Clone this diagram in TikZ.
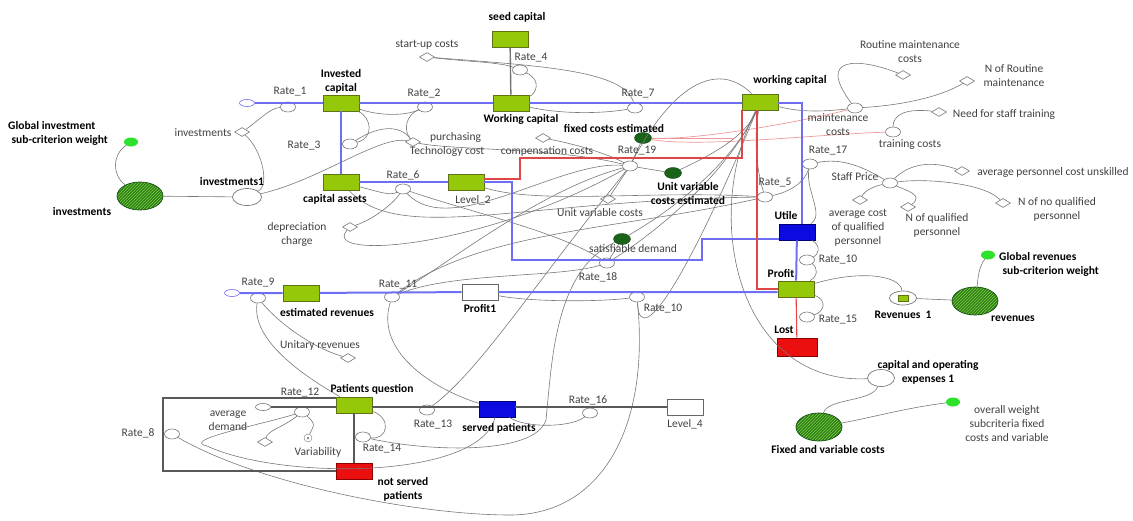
\documentclass[tikz,border=0pt]{standalone}
\usepackage{fontspec}
\setmainfont{Carlito}
\usetikzlibrary{positioning,shapes.geometric,patterns}

\definecolor{stockgreen}{RGB}{150,200,10}
\definecolor{stockedge}{RGB}{95,115,20}
\definecolor{flowblue}{RGB}{110,110,245}
\definecolor{boxblue}{RGB}{10,10,225}
\definecolor{boxred}{RGB}{235,15,15}
\definecolor{flowred}{RGB}{225,70,70}
\definecolor{darkgreen}{RGB}{25,100,25}
\definecolor{dotgreen}{RGB}{45,225,45}
\definecolor{hatchgreen}{RGB}{45,125,25}
\definecolor{hatchlight}{RGB}{130,210,70}
\definecolor{linkgray}{RGB}{120,120,120}
\definecolor{txtgray}{RGB}{65,65,65}

\tikzset{
  box/.style={draw=stockedge, line width=0.8pt, minimum width=36pt, minimum height=16pt, inner sep=0pt},
  stock/.style={box, fill=stockgreen},
  bstock/.style={box, draw=blue!45!black, fill=boxblue},
  rstock/.style={box, draw=red!55!black, fill=boxred},
  wstock/.style={box, draw=gray!80!black, fill=white},
  valve/.style={ellipse, draw=linkgray, fill=white, line width=0.6pt, minimum width=15pt, minimum height=10pt, inner sep=0pt},
  aux/.style={diamond, draw=linkgray, fill=white, line width=0.6pt, minimum width=15pt, minimum height=9pt, inner sep=0pt},
  sumnode/.style={ellipse, draw=linkgray, fill=white, line width=0.7pt, minimum width=29pt, minimum height=17pt, inner sep=0pt},
  cloudnode/.style={ellipse, draw=flowblue, line width=0.6pt, minimum width=15pt, minimum height=7pt, inner sep=0pt},
  estim/.style={ellipse, fill=darkgreen, draw=darkgreen!70!black, minimum width=17pt, minimum height=11pt, inner sep=0pt},
  wdot/.style={ellipse, fill=dotgreen, minimum width=14pt, minimum height=9pt, inner sep=0pt},
  crit/.style={ellipse, draw=darkgreen!80!black, line width=0.7pt, preaction={fill=hatchgreen}, pattern=north east lines, pattern color=hatchlight, minimum width=46pt, minimum height=28pt, inner sep=0pt},
  link/.style={draw=linkgray, line width=0.6pt},
  plink/.style={draw=flowred!55, line width=0.7pt},
  bflow/.style={draw=flowblue, line width=2pt},
  rflow/.style={draw=flowred, line width=1.1pt},
  kflow/.style={draw=black!65, line width=1.4pt},
  lbl/.style={text=txtgray, inner sep=1pt, align=center, font=\fontsize{11.5}{14}\selectfont},
  blbl/.style={lbl, text=black, font=\fontsize{11.5}{14}\selectfont\bfseries},
  slbl/.style={lbl, text=black, font=\fontsize{11.5}{14}\selectfont\bfseries, anchor=west, align=left}
}

\begin{document}
\begin{tikzpicture}[x=1pt,y=-1pt]
    \useasboundingbox (0,0) rectangle (1133,520);

    % stocks
    \node[stock] (seed) at (510,39) {};
    \node[stock] (invcap) at (341,103) {};
    \node[stock] (wcap) at (511,103) {};
    \node[stock] (wcap2) at (760,102) {};
    \node[stock] (assets) at (341,182) {};
    \node[stock] (lev2) at (466,182) {};
    \node[bstock] (utile) at (797,232) {};
    \node[stock] (profit) at (796,289) {};
    \node[rstock, minimum width=40pt, minimum height=18pt] (lost) at (797,347) {};
    \node[wstock] (profit1) at (480,292) {};
    \node[stock] (estrev) at (301,293) {};
    \node[stock] (patq) at (354,405) {};
    \node[bstock] (served) at (497,409) {};
    \node[rstock] (notserved) at (354,471) {};
    \node[wstock] (lev4) at (685,407) {};

    % clouds
    \node[cloudnode] (cl1) at (247,103) {};
    \node[cloudnode] (cl2) at (232,293) {};
    \node[cloudnode, draw=linkgray] (cl3) at (263,407) {};

    % valves
    \node[valve] (r1) at (288,107) {};
    \node[valve] (r2) at (425,107) {};
    \node[valve] (r3) at (350,144) {};
    \node[valve] (r4) at (520,70) {};
    \node[valve] (r5) at (765,197) {};
    \node[valve] (r6) at (403,189) {};
    \node[valve] (r7) at (635,108) {};
    \node[valve] (r8) at (172,434) {};
    \node[valve] (r9) at (258,298) {};
    \node[valve] (r10) at (807,260) {};
    \node[valve] (r10b) at (637,297) {};
    \node[valve] (r11) at (392,297) {};
    \node[valve] (r12) at (302,412) {};
    \node[valve] (r13) at (427,410) {};
    \node[valve] (r14) at (363,437) {};
    \node[valve] (r15) at (807,317) {};
    \node[valve] (r16) at (590,413) {};
    \node[valve] (r17) at (810,164) {};
    \node[valve] (r18) at (607,263) {};
    \node[valve] (r19) at (630,166) {};
    \node[valve] (mcost) at (855,108) {};
    \node[valve] (tcost) at (893,132) {};
    \node[valve] (sprice) at (890,183) {};

    % auxiliaries
    \node[aux] (invd) at (242,132) {};
    \node[aux] (startup) at (427,57) {};
    \node[aux] (purch) at (413,142) {};
    \node[aux] (comp) at (543,138) {};
    \node[aux] (uvc) at (608,199) {};
    \node[aux] (depr) at (350,227) {};
    \node[aux] (routine) at (903,75) {};
    \node[aux] (nroutine) at (967,81) {};
    \node[aux] (needtr) at (939,112) {};
    \node[aux] (apcu) at (962,171) {};
    \node[aux] (nnoq) at (1003,203) {};
    \node[aux] (nq) at (908,207) {};
    \node[aux] (acq) at (860,200) {};
    \node[aux] (unitrev) at (348,358) {};
    \node[aux] (avgdem) at (265,442) {};
    \node[circle, draw=linkgray, minimum size=8pt, inner sep=0pt] (var) at (308,438) {};
    \node[circle, fill=linkgray, minimum size=2.5pt, inner sep=0pt] (vardot) at (var) {};

    % estimates and weights
    \node[estim] (fixed) at (643,138) {};
    \node[estim] (uvce) at (673,173) {};
    \node[estim] (satd) at (622,239) {};
    \node[wdot] (gdot1) at (131,142) {};
    \node[wdot] (gdot2) at (988,255) {};
    \node[wdot] (gdot3) at (953,402) {};
    \node[crit] (invest) at (140,196) {};
    \node[crit] (revenues) at (975,301) {};
    \node[crit] (fvc) at (819,427) {};
    \node[sumnode] (sum1) at (247,197) {};
    \node[sumnode, minimum width=27pt] (capop) at (881,378) {};
    \node[sumnode, minimum width=27pt, minimum height=14pt] (rev1) at (903,298) {};
    \node[fill=stockgreen, draw=stockedge, minimum width=10pt, minimum height=6pt, inner sep=0pt] (rev1in) at (rev1) {};

    % information links
    \draw[link] (invd) .. controls (262,118) and (270,108) .. (r1);
    \draw[link] (invd) .. controls (262,150) and (270,185) .. (sum1);
    \draw[link] (sum1) .. controls (320,180) and (380,135) .. (purch);
    \draw[link] (gdot1) .. controls (112,155) and (112,175) .. (invest);
    \draw[link] (invest) -- (sum1);
    \draw[link] (invcap) .. controls (372,118) and (374,138) .. (r3);
    \draw[link] (r3) .. controls (380,125) and (400,125) .. (purch);
    \draw[link] (invcap) .. controls (380,116) and (405,116) .. (r2);
    \draw[link] (purch) .. controls (403,130) and (406,115) .. (r2);
    \draw[link] (startup) .. controls (470,62) and (500,62) .. (r4);
    \draw[link] (startup) .. controls (540,66) and (625,70) .. (r7);
    \draw[link] (r4) .. controls (542,80) and (536,94) .. (wcap);
    \draw[link] (wcap) .. controls (560,114) and (600,114) .. (r7);
    \draw[link] (wcap2) .. controls (720,62) and (675,80) .. (r19);
    \draw[link] (mcost) .. controls (820,112) and (800,112) .. (wcap2);
    \draw[link] (routine) .. controls (860,58) and (815,55) .. (mcost);
    \draw[link] (nroutine) .. controls (935,100) and (890,106) .. (mcost);
    \draw[link] (needtr) .. controls (905,108) and (893,115) .. (tcost);
    \draw[plink] (tcost) .. controls (820,134) and (700,148) .. (fixed);
    \draw[plink] (mcost) .. controls (800,122) and (700,140) .. (fixed);
    \draw[link] (sprice) .. controls (860,165) and (840,158) .. (r17);
    \draw[link] (apcu) .. controls (925,158) and (905,168) .. (sprice);
    \draw[link] (nnoq) .. controls (985,183) and (925,178) .. (sprice);
    \draw[link] (nq) .. controls (925,195) and (905,190) .. (sprice);
    \draw[link] (acq) .. controls (865,190) and (875,186) .. (sprice);
    \draw[link] (r5) .. controls (790,192) and (805,182) .. (r17);
    \draw[link] (r17) .. controls (805,190) and (825,215) .. (utile);
    \draw[link] (wcap2) .. controls (740,150) and (690,200) .. (satd);
    \draw[link] (wcap2) .. controls (745,140) and (700,160) .. (uvce);
    \draw[link] (wcap2) .. controls (752,150) and (760,180) .. (r5);
    \draw[link] (wcap2) .. controls (730,170) and (660,230) .. (r18);
    \draw[link] (fixed) -- (r19);
    \draw[link] (uvce) -- (r19);
    \draw[link] (uvc) -- (r19);
    \draw[link] (comp) .. controls (580,145) and (610,155) .. (r19);
    \draw[link] (purch) .. controls (450,150) and (560,148) .. (r19);
    \draw[link] (assets) .. controls (380,192) and (390,196) .. (r6);
    \draw[link] (depr) .. controls (372,220) and (392,205) .. (r6);
    \draw[link] (depr) .. controls (320,260) and (480,250) .. (r19);
    \draw[link] (r6) .. controls (470,212) and (560,232) .. (r18);
    \draw[link] (assets) .. controls (400,245) and (520,200) .. (r5);
    \draw[link] (lev2) .. controls (540,205) and (650,190) .. (r5);
    \draw[link] (r6) .. controls (450,240) and (560,160) .. (r19);
    \draw[link] (satd) -- (r18);
    \draw[link] (r18) .. controls (560,278) and (450,272) .. (r11);
    \draw[link] (r11) .. controls (450,262) and (540,190) .. (r19);
    \draw[link] (r11) .. controls (480,230) and (620,230) .. (r5);
    \draw[link] (utile) .. controls (822,246) and (818,255) .. (r10);
    \draw[link] (profit) .. controls (818,276) and (818,268) .. (r10);
    \draw[link] (profit) .. controls (828,300) and (824,312) .. (r15);
    \draw[link] (profit) .. controls (860,270) and (900,275) .. (rev1);
    \draw[link] (rev1) -- (revenues);
    \draw[link] (gdot2) .. controls (978,268) and (978,280) .. (revenues);
    \draw[link] (capop) .. controls (872,402) and (828,398) .. (fvc);
    \draw[link] (gdot3) .. controls (905,408) and (870,418) .. (fvc);
    \draw[link] (capop) .. controls (740,385) and (700,220) .. (wcap2);
    \draw[link] (r8) .. controls (260,485) and (420,515) .. (510,515)
        .. controls (600,515) and (650,430) .. (r10b);
    \draw[link] (r12) .. controls (260,425) and (180,440) .. (207,446)
        .. controls (280,480) and (480,480) .. (served);
    \draw[link] (r14) .. controls (430,452) and (535,455) .. (546,420)
        .. controls (552,360) and (555,270) .. (satd);
    \draw[link] (patq) .. controls (392,418) and (388,440) .. (r14);
    \draw[link] (r11) .. controls (375,350) and (430,388) .. (served);
    \draw[link] (r13) .. controls (480,370) and (530,290) .. (r19);
    \draw[link] (r9) .. controls (285,330) and (320,350) .. (unitrev);
    \draw[link] (r9) .. controls (250,345) and (320,385) .. (patq);
    \draw[link] (r12) .. controls (282,428) and (268,430) .. (avgdem);
    \draw[link] (r12) .. controls (318,425) and (312,428) .. (var);
    \draw[link] (served) .. controls (525,428) and (570,428) .. (r16);
    \draw[link] (profit1) .. controls (530,302) and (600,302) .. (r10b);
    \draw[link] (r10b) .. controls (640,360) and (700,250) .. (wcap2);
    \draw[plink] (fixed) -- ++(92,0);

    % flows
    \draw[bflow] (cl1) -- (invcap) -- (wcap) -- (wcap.east -| wcap2.west);
    \draw[bflow] (wcap2.east |- wcap.east) -| ([xshift=5pt]utile.north);
    \draw[bflow] (invcap) -- (assets);
    \draw[bflow] (assets) -- (lev2);
    \draw[bflow] (lev2.east) -- ++(28,0) -- ++(0,78) -- ++(190,0) |- ([yshift=-7pt]utile.west);
    \draw[bflow] (utile) -- (profit);
    \draw[bflow] (cl2) -- (estrev) -- (profit1) -- (profit1 -| profit.west);
    \draw[rflow] ([xshift=-3pt]wcap2.south) |- (profit.west);
    \draw[rflow] ([xshift=-18pt]wcap2.south) |- (520,158) |- ([yshift=3pt]lev2.east);
    \draw[rflow] (profit) -- (lost);
    \draw[kflow, draw=black!55] (seed) -- (wcap);
    \draw[kflow] (cl3) -- (cl3 -| patq.west);
    \draw[kflow] (patq.east |- cl3) -- (served.west |- cl3);
    \draw[kflow] (served.east |- cl3) -- (lev4.west |- cl3);
    \draw[kflow] (patq) -- (notserved);
    \draw[kflow] ([yshift=7pt]patq.west) -| (163,440) |- (notserved.west);

    % labels
    \node[blbl] (tseed) at (517,17) {seed capital};
    \node[lbl] (tstartup) at (427,45) {start-up costs};
    \node[lbl] (tr4) at (531,58) {Rate\_4};
    \node[blbl, above=0pt of invcap] (tinvcap) {Invested\\capital};
    \node[lbl] (tr1) at (290,92) {Rate\_1};
    \node[lbl] (tr2) at (424,94) {Rate\_2};
    \node[blbl] (twcap) at (521,119) {Working capital};
    \node[lbl] (tr7) at (638,94) {Rate\_7};
    \node[blbl] (twcap2) at (790,80) {working capital};
    \node[lbl] (tinvd) at (203,133) {investments};
    \node[lbl] (tr3) at (304,146) {Rate\_3};
    \node[lbl] (tpurch) at (447,144) {\hspace*{1.5em}purchasing\\Technology cost};
    \node[lbl] (tcomp) at (547,151) {compensation costs};
    \node[blbl] (tfixed) at (614,128) {fixed costs estimated};
    \node[lbl] (tr19) at (637,151) {Rate\_19};
    \node[blbl] (tuvce) at (688,194) {Unit variable\\costs estimated};
    \node[lbl] (tuvc) at (600,213) {Unit variable costs};
    \node[lbl] (tsatd) at (633,249) {satisfiable demand};
    \node[lbl] (tr18) at (598,277) {Rate\_18};
    \node[lbl] (tr6) at (403,175) {Rate\_6};
    \node[lbl] (tlev2) at (473,200) {Level\_2};
    \node[blbl] (tassets) at (335,199) {capital assets};
    \node[blbl] (tsum1) at (232,182) {investments1};
    \node[blbl] (tinvest) at (82,212) {investments};
    \node[slbl] (tgw1) at (7,133) {Global investment\\\hspace*{0.3em}sub-criterion weight};
    \node[lbl] (tdepr) at (297,234) {depreciation\\charge};
    \node[blbl] (tutile) at (786,215) {Utile};
    \node[blbl] (tprofit) at (781,273) {Profit};
    \node[lbl] (tr10) at (838,260) {Rate\_10};
    \node[lbl] (tr15) at (838,320) {Rate\_15};
    \node[blbl] (tlost) at (784,330) {Lost};
    \node[blbl] (trev1) at (903,315) {Revenues\ \ 1};
    \node[blbl] (trevenues) at (1013,319) {revenues};
    \node[slbl] (tgw2) at (998,264) {Global revenues\\\hspace*{0.3em}sub-criterion weight};
    \node[blbl] (tcapop) at (928,372) {capital and operating\\expenses 1};
    \node[blbl] (tfvc) at (828,449) {Fixed and variable costs};
    \node[lbl] (tow) at (1007,424) {overall weight\\subcriteria fixed\\costs and variable};
    \node[lbl] (troutine) at (910,52) {Routine maintenance\\costs};
    \node[lbl] (tnroutine) at (1014,76) {N of Routine\\maintenance};
    \node[lbl] (tmcost) at (838,125) {maintenance\\costs};
    \node[lbl] (tneedtr) at (1004,114) {Need for staff training};
    \node[lbl] (ttcost) at (910,145) {training costs};
    \node[lbl] (tr17) at (828,151) {Rate\_17};
    \node[lbl] (tsprice) at (855,177) {Staff Price};
    \node[lbl] (tapcu) at (1053,172) {average personnel cost unskilled};
    \node[lbl] (tnnoq) at (1057,209) {N of no qualified\\personnel};
    \node[lbl] (tnq) at (937,225) {N of qualified\\personnel};
    \node[lbl] (tacq) at (858,228) {average cost\\of qualified\\personnel};
    \node[lbl] (tr5) at (775,183) {Rate\_5};
    \node[lbl] (tr9) at (258,283) {Rate\_9};
    \node[blbl] (testrev) at (327,312) {estimated revenues};
    \node[lbl] (tr11) at (398,285) {Rate\_11};
    \node[blbl] (tprofit1) at (480,308) {Profit1};
    \node[lbl] (tr10b) at (663,309) {Rate\_10};
    \node[lbl] (tunitrev) at (320,345) {Unitary revenues};
    \node[lbl] (tr12) at (300,393) {Rate\_12};
    \node[blbl] (tpatq) at (372,389) {Patients question};
    \node[lbl] (tr8) at (138,433) {Rate\_8};
    \node[lbl] (tavgdem) at (228,421) {average\\demand};
    \node[lbl] (tvar) at (318,452) {Variability};
    \node[lbl] (tr14) at (382,449) {Rate\_14};
    \node[lbl] (tr13) at (433,425) {Rate\_13};
    \node[blbl] (tserved) at (499,428) {served patients};
    \node[blbl] (tnotserved) at (403,489) {not served\\patients};
    \node[lbl] (tr16) at (588,400) {Rate\_16};
    \node[lbl] (tlev4) at (685,424) {Level\_4};
\end{tikzpicture}
\end{document}
